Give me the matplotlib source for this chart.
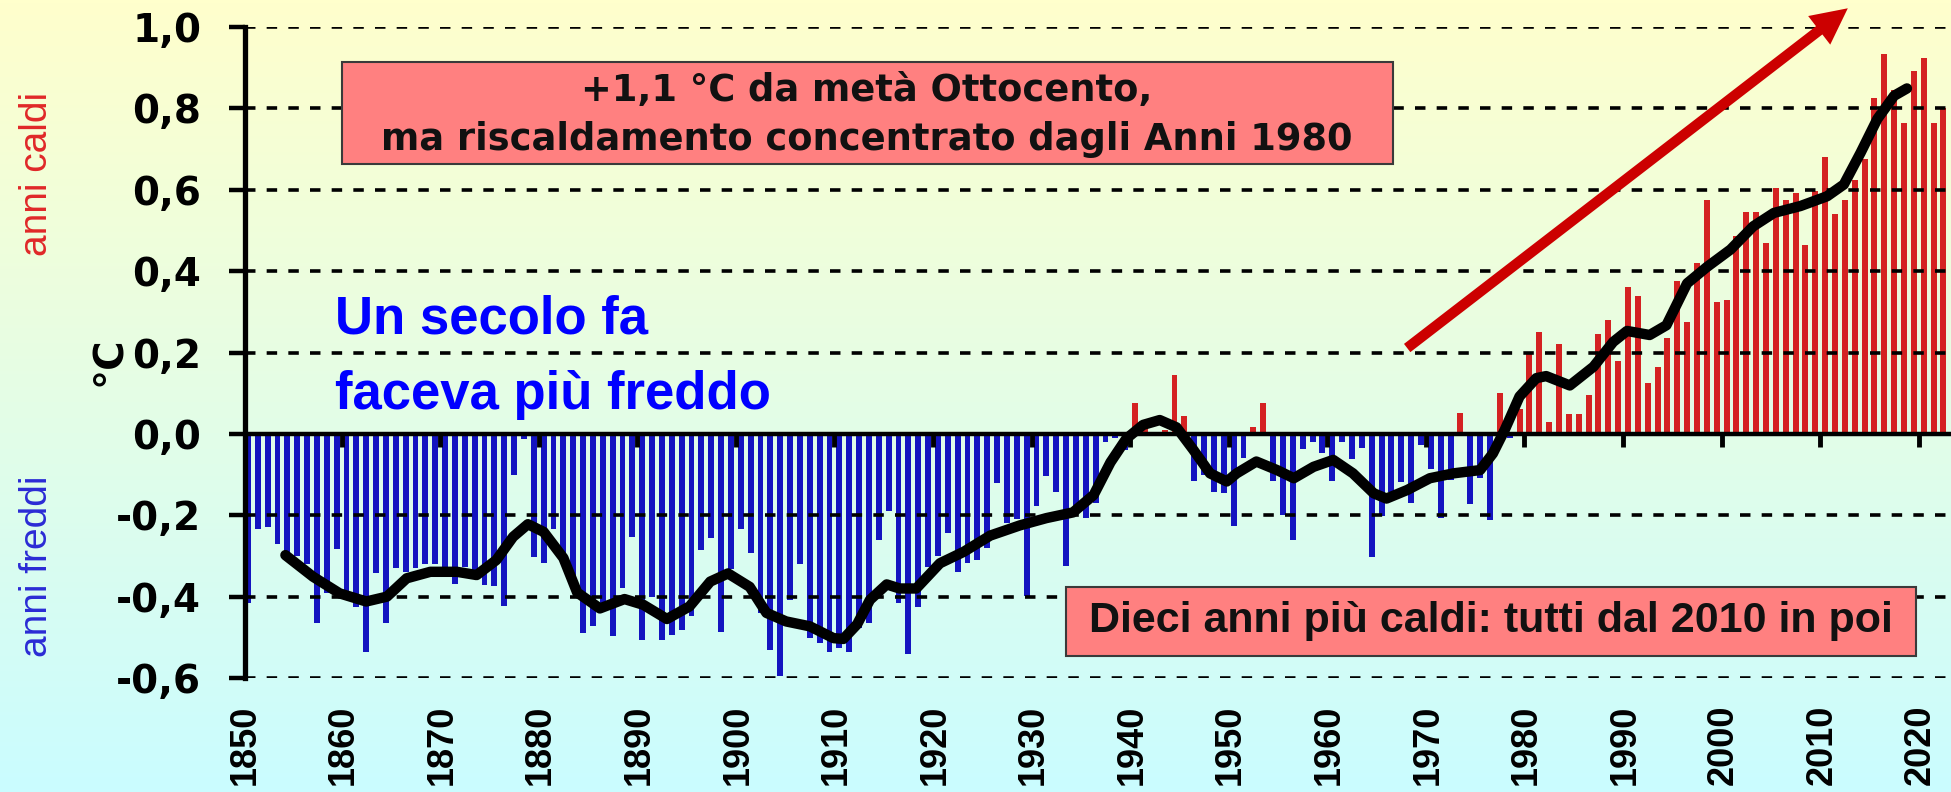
import numpy as np
import matplotlib.pyplot as plt
from matplotlib.patches import Rectangle

## Data (annual anomaly, degC)
years = np.arange(1850, 2023)
anomaly = [
    -0.415, -0.233, -0.23, -0.271, -0.29, -0.30, -0.32, -0.465, -0.39, -0.283,
    -0.40, -0.426, -0.535, -0.343, -0.465, -0.33, -0.339, -0.33, -0.32, -0.32,
    -0.335, -0.369, -0.327, -0.339, -0.371, -0.374, -0.424, -0.10, -0.012, -0.302,
    -0.318, -0.233, -0.294, -0.35, -0.49, -0.472, -0.42, -0.496, -0.378, -0.253,
    -0.506, -0.40, -0.506, -0.494, -0.483, -0.447, -0.286, -0.257, -0.486, -0.331,
    -0.235, -0.292, -0.44, -0.53, -0.596, -0.408, -0.321, -0.502, -0.513, -0.535,
    -0.527, -0.537, -0.478, -0.466, -0.26, -0.19, -0.416, -0.541, -0.425, -0.326,
    -0.30, -0.243, -0.339, -0.318, -0.31, -0.281, -0.121, -0.22, -0.209, -0.398,
    -0.177, -0.103, -0.144, -0.325, -0.19, -0.207, -0.169, -0.019, -0.01, -0.04,
    0.077, 0.014, 0.003, 0.01, 0.145, 0.043, -0.117, -0.10, -0.144, -0.145,
    -0.227, -0.06, 0.018, 0.077, -0.116, -0.2, -0.26, -0.038, -0.019, -0.047,
    -0.116, -0.019, -0.062, -0.035, -0.303, -0.201, -0.142, -0.118, -0.169, -0.027,
    -0.087, -0.207, -0.113, 0.052, -0.172, -0.109, -0.211, 0.10, -0.01, 0.06,
    0.20, 0.25, 0.03, 0.22, 0.05, 0.05, 0.095, 0.245, 0.28, 0.18,
    0.36, 0.34, 0.125, 0.165, 0.235, 0.376, 0.275, 0.42, 0.576, 0.325,
    0.33, 0.487, 0.546, 0.546, 0.47, 0.605, 0.574, 0.593, 0.465, 0.597,
    0.68, 0.54, 0.576, 0.624, 0.675, 0.826, 0.934, 0.845, 0.764, 0.893,
    0.923, 0.764, 0.80,
]

# smoothed curve
line_years = [1853.8, 1856.6, 1859.3, 1862.0, 1864.1, 1866.1, 1868.5, 1871.2, 1873.2,
              1875.2, 1876.9, 1878.4, 1880.0, 1882.0, 1883.4, 1885.7, 1888.2, 1890.1,
              1892.5, 1894.8, 1896.9, 1898.7, 1900.9, 1902.6, 1904.6, 1907.0, 1909.4,
              1910.4, 1911.8, 1913.1, 1914.8, 1916.1, 1917.8, 1920.2, 1922.6, 1925.3,
              1928.3, 1931.0, 1933.7, 1935.8, 1937.5, 1939.1, 1940.8, 1942.5, 1944.2,
              1945.9, 1947.6, 1949.3, 1950.3, 1952.3, 1954.4, 1956.1, 1958.1, 1960.1,
              1962.1, 1964.2, 1965.5, 1967.6, 1969.9, 1972.3, 1975.0, 1976.3, 1977.5,
              1979.0, 1980.7, 1981.7, 1984.1, 1986.5, 1988.5, 1989.9, 1992.2, 1993.9,
              1996.0, 1998.0, 2000.4, 2002.7, 2004.8, 2007.5, 2010.2, 2011.9, 2013.6,
              2015.3, 2017.0, 2018.3]
line_vals = [-0.298, -0.351, -0.392, -0.412, -0.40, -0.355, -0.339, -0.339, -0.347,
             -0.31, -0.253, -0.222, -0.241, -0.305, -0.39, -0.429, -0.406, -0.42,
             -0.455, -0.424, -0.363, -0.343, -0.376, -0.44, -0.461, -0.473, -0.502,
             -0.504, -0.468, -0.408, -0.37, -0.38, -0.38, -0.318, -0.29, -0.25,
             -0.225, -0.207, -0.193, -0.15, -0.07, -0.012, 0.022, 0.034, 0.016,
             -0.039, -0.097, -0.117, -0.097, -0.068, -0.089, -0.109, -0.081, -0.064,
             -0.097, -0.146, -0.159, -0.138, -0.109, -0.097, -0.089, -0.048, 0.01,
             0.092, 0.137, 0.142, 0.119, 0.165, 0.226, 0.253, 0.243, 0.267,
             0.37, 0.41, 0.453, 0.51, 0.543, 0.56, 0.584, 0.613, 0.691,
             0.774, 0.831, 0.849]

decades = np.arange(1850, 2030, 10)
ytick_vals = [-0.6, -0.4, -0.2, 0.0, 0.2, 0.4, 0.6, 0.8, 1.0]
ytick_labels = ['-0,6', '-0,4', '-0,2', '0,0', '0,2', '0,4', '0,6', '0,8', '1,0']

W, H = 1951, 792
fig = plt.figure(figsize=(W / 100, H / 100), dpi=100)

def fx(x):
    return x / W

def fy(y):
    return 1 - y / H

## background gradient yellow -> cyan
bg = fig.add_axes([0, 0, 1, 1], zorder=-10)
top = np.array([255, 255, 204]) / 255
bot = np.array([202, 252, 255]) / 255
t = np.linspace(0, 1, 256)[:, None]
grad = top + (bot - top) * t
bg.imshow(grad[:, None, :], aspect='auto', extent=[0, 1, 0, 1])
bg.axis('off')

## main axes
ax = fig.add_axes([fx(245), fy(678), 1 - fx(245), (678 - 27) / H])
ax.set_facecolor('none')
ax.set_xlim(1849.7, 2022.77)
ax.set_ylim(-0.6, 1.0)

colors = ['#D42222' if v > 0 else '#1414C0' for v in anomaly]
ax.bar(years, anomaly, width=0.6, color=colors, zorder=2)

for y in ytick_vals:
    if y != 0:
        ax.axhline(y, color='black', lw=2.6, ls=(0, (2.9, 3.1)), zorder=2.5)
ax.axhline(0, color='black', lw=3.2, zorder=3)
ax.vlines(decades[1:] - 0.5, -0.032, 0, colors='black', lw=3.5, zorder=3)

ax.plot(line_years, line_vals, color='black', lw=7.5,
        solid_capstyle='round', solid_joinstyle='round', zorder=4)

ax.annotate('', xy=(2012.3, 1.046), xytext=(1967.6, 0.211),
            arrowprops=dict(arrowstyle='simple,head_length=2.6,head_width=2.6,tail_width=0.75',
                            mutation_scale=10, fc='#CC0000', ec='none', lw=0,
                            shrinkA=0, shrinkB=0, clip_on=False),
            annotation_clip=False, zorder=5)

for s in ['top', 'right', 'bottom']:
    ax.spines[s].set_visible(False)
ax.spines['left'].set_linewidth(3.8)

ax.set_yticks(ytick_vals, ytick_labels)
ax.tick_params(axis='y', length=11.5, width=3.2, pad=20, labelsize=28)
for lab in ax.get_yticklabels():
    lab.set_fontfamily('DejaVu Sans')
    lab.set_fontweight('bold')

ax.set_xticks(decades - 0.3, [str(d) for d in decades])
ax.tick_params(axis='x', length=0, pad=19, labelsize=26, labelrotation=90)
for lab in ax.get_xticklabels():
    lab.set_fontfamily('Liberation Sans')
    lab.set_fontweight('bold')

## side labels
side_font = ['Liberation Sans Narrow', 'DejaVu Sans Condensed', 'Liberation Sans']
fig.text(fx(37), fy(174), 'anni caldi', rotation=90, ha='center', va='center',
         color='#E02828', fontsize=28, family=side_font, fontstretch='condensed')
fig.text(fx(37), fy(566), 'anni freddi', rotation=90, ha='center', va='center',
         color='#2B2BD5', fontsize=28, family=side_font, fontstretch='condensed')
fig.text(fx(110), fy(361), '°C', rotation=90, ha='center', va='center',
         fontsize=29, fontweight='bold', family='DejaVu Sans')

## blue text
fig.text(fx(335), fy(357), 'Un secolo fa\nfaceva più freddo', ha='left', va='center',
         color='#0000FF', fontsize=38, fontweight='bold', family='Liberation Sans',
         linespacing=1.65)

## boxes
fig.add_artist(Rectangle((fx(342), fy(164)), (1393 - 342) / W, (164 - 62) / H,
                         transform=fig.transFigure, fc='#FF8080', ec='#3A3A3A', lw=1.5))
fig.text(fx(867), fy(115), '+1,1 °C da metà Ottocento,\nma riscaldamento concentrato dagli Anni 1980',
         ha='center', va='center', fontsize=26.5, fontweight='bold', family='DejaVu Sans',
         linespacing=1.42, color='#111111')

fig.add_artist(Rectangle((fx(1066), fy(656)), (1916 - 1066) / W, (656 - 587) / H,
                         transform=fig.transFigure, fc='#FF8080', ec='#3A3A3A', lw=1.5))
fig.text(fx(1491), fy(621), 'Dieci anni più caldi: tutti dal 2010 in poi',
         ha='center', va='center', fontsize=31, fontweight='bold', family='Liberation Sans',
         color='#111111')

fig.savefig('out.png', dpi=100)
